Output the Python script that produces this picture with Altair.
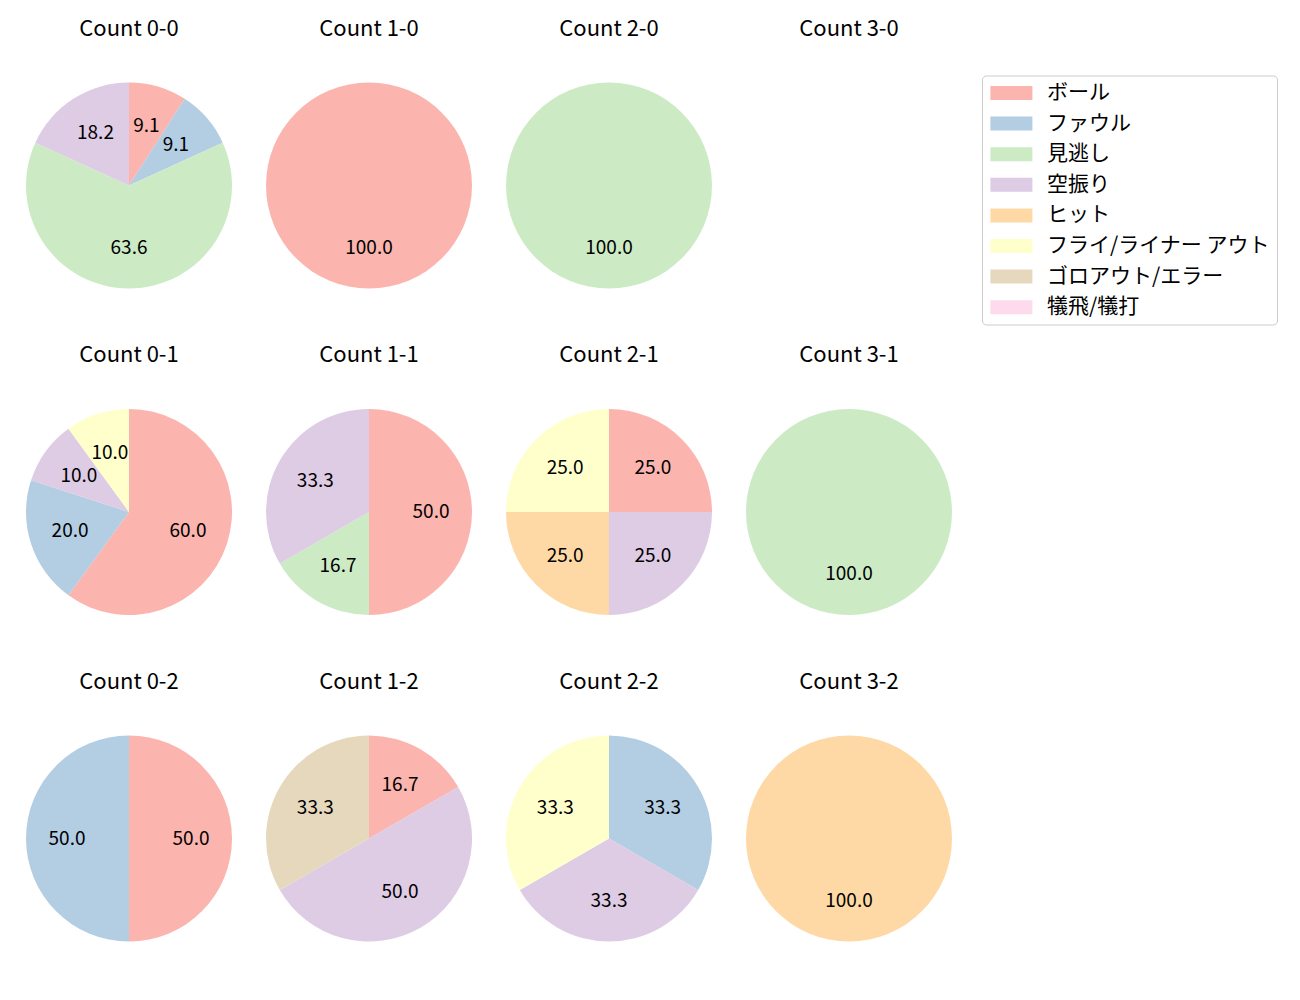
import altair as alt
import pandas as pd

FONT = "Noto Sans CJK JP"

categories = ["ボール", "ファウル", "見逃し", "空振り", "ヒット",
              "フライ/ライナー アウト", "ゴロアウト/エラー", "犠飛/犠打"]
colors = ["#fbb4ae", "#b3cde3", "#ccebc5", "#decbe4", "#fed9a6",
          "#ffffcc", "#e5d8bd", "#fddaec"]

count_labels = ["0-0", "1-0", "2-0", "3-0",
                "0-1", "1-1", "2-1", "3-1",
                "0-2", "1-2", "2-2", "3-2"]

# pitches per result category (same order as categories)
c_0_0 = [1, 1, 7, 2, 0, 0, 0, 0]
c_1_0 = [1, 0, 0, 0, 0, 0, 0, 0]
c_2_0 = [0, 0, 1, 0, 0, 0, 0, 0]
c_3_0 = [0, 0, 0, 0, 0, 0, 0, 0]
c_0_1 = [6, 2, 0, 1, 0, 1, 0, 0]
c_1_1 = [3, 0, 1, 2, 0, 0, 0, 0]
c_2_1 = [1, 0, 0, 1, 1, 1, 0, 0]
c_3_1 = [0, 0, 1, 0, 0, 0, 0, 0]
c_0_2 = [1, 1, 0, 0, 0, 0, 0, 0]
c_1_2 = [1, 0, 0, 3, 0, 0, 2, 0]
c_2_2 = [0, 1, 0, 1, 0, 1, 0, 0]
c_3_2 = [0, 0, 0, 0, 1, 0, 0, 0]

series = [c_0_0, c_1_0, c_2_0, c_3_0, c_0_1, c_1_1, c_2_1, c_3_1,
          c_0_2, c_1_2, c_2_2, c_3_2]

rows = []
for lab, vals in zip(count_labels, series):
    tot = sum(vals)
    for i, (cat, v) in enumerate(zip(categories, vals)):
        if v > 0:
            rows.append({"cnt": lab, "category": cat, "idx": i, "n": v,
                         "pct": v / tot * 100})
df = pd.DataFrame(rows)

legend = alt.Legend(
    orient="none", legendX=963, legendY=0, title=None,
    labelFont=FONT, labelFontSize=21, labelColor="black", labelLimit=0,
    symbolType="M-1.3,-1H4.7V1H-1.3Z", symbolSize=196,
    symbolStrokeWidth=0, labelOffset=37, rowPadding=8.6,
    strokeColor="#cccccc", cornerRadius=4, padding=7, fillColor="white",
)

color = alt.Color("category:N", scale=alt.Scale(domain=categories, range=colors),
                  legend=legend)


def pie(label):
    base = alt.Chart(df).transform_filter(alt.datum.cnt == label).encode(
        theta=alt.Theta("n:Q", stack=True),
        order=alt.Order("idx:Q", sort="ascending"),
    )
    arc = base.mark_arc(outerRadius=103).encode(color=color)
    txt = base.mark_text(radius=62, fontSize=19, font=FONT, color="black").encode(
        text=alt.Text("pct:Q", format=".1f"),
        detail="category:N",
    )
    return alt.layer(arc, txt).properties(
        width=220, height=220,
        title=alt.TitleParams(f"Count {label}", font=FONT, fontSize=22,
                              fontWeight="normal", color="black", offset=35),
    )


grid_rows = []
for r in range(3):
    grid_rows.append(alt.hconcat(*[pie(count_labels[r * 4 + c]) for c in range(4)],
                                 spacing=20))

chart = alt.vconcat(*grid_rows, spacing=48.5).properties(
    padding={"left": 19, "top": 17.5, "right": 5, "bottom": 5}
).configure_view(strokeWidth=0)

chart.save("out.html", embed_options={"renderer": "svg", "actions": False})
